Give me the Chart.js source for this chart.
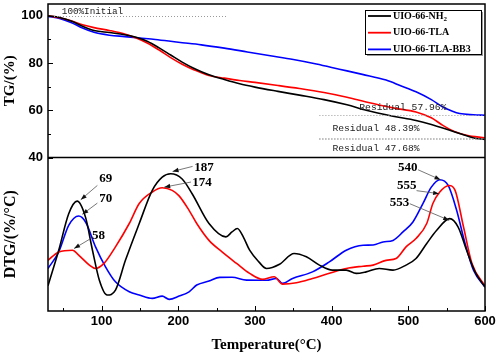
<!DOCTYPE html>
<html>
<head>
<meta charset="utf-8">
<script src="https://cdn.jsdelivr.net/npm/chart.js@4.4.0/dist/chart.umd.min.js"></script>
<style>
  html, body { margin: 0; padding: 0; background: #fff; }
  #wrap { width: 498px; height: 354px; }
</style>
</head>
<body>
<div id="wrap"><canvas id="tgChart" width="498" height="354"></canvas></div>
<script>
// series names
const seriesNames = ['UIO-66-NH', 'UIO-66-TLA', 'UIO-66-TLA-BB3'];

// TG curves, weight % vs temperature
const tgTempNh2 = [30, 45, 60, 75, 90, 110, 130, 145, 160, 175, 190, 205, 220, 240, 260, 280, 300, 330, 358, 390, 420, 445, 480, 510, 530, 554, 570, 584, 600];
const tgNh2     = [100, 99.3, 97.8, 95.6, 93.8, 92.9, 92, 90.9, 89.1, 86.4, 83.4, 80.4, 77.8, 75, 73, 71.2, 69.8, 68, 66.4, 64.5, 62.3, 60, 57.5, 55.7, 54, 51.5, 49.8, 48.4, 47.6];
const tgTempTla = [30, 45, 60, 75, 90, 110, 130, 145, 160, 175, 190, 205, 220, 240, 260, 280, 300, 330, 358, 390, 420, 445, 480, 510, 530, 545, 560, 576, 600];
const tgTla     = [100, 99.2, 97.9, 96.2, 95, 93.8, 92.3, 90.6, 88.4, 85.5, 82.3, 79.5, 77.2, 74.7, 73.6, 72.6, 71.8, 70.5, 69.2, 67.5, 65.5, 63.5, 61, 59.3, 56.8, 53.6, 51, 49.4, 48.3];
const tgTempBb3 = [30, 45, 60, 75, 90, 110, 130, 150, 170, 200, 230, 260, 290, 320, 350, 380, 410, 440, 471, 490, 510, 530, 545, 556, 567, 585, 600];
const tgBb3     = [99.7, 98.9, 97.2, 94.8, 93, 91.8, 91.2, 90.6, 90, 88.8, 87.7, 86.3, 84.7, 83.1, 81.5, 79.6, 77.4, 75.2, 72.8, 70.4, 67.8, 64.5, 61.4, 59.8, 58.6, 58.1, 57.9];

// DTG curves (arbitrary units, 0 = bottom of panel, 100 = top)
const dtgTempNh2 = [30, 44, 57, 68, 79, 88, 97, 107, 118, 131, 149, 166, 179, 190, 205, 218, 240, 262, 270, 277, 285, 293, 305, 315, 332, 351, 367, 384, 401, 419, 432, 445, 462, 480, 497, 510, 524, 537, 554, 565, 576, 587, 600];
const dtgNh2     = [16.5, 39.6, 63.4, 71.6, 61, 39.6, 20, 10.4, 13.6, 33, 57, 78.6, 87.2, 89.4, 86, 76.4, 57, 48.3, 51.5, 53.7, 48, 39.6, 32, 27.7, 30.5, 37.5, 35.3, 29.9, 26.6, 26.6, 24.5, 25.5, 27.7, 26.6, 29.9, 34.2, 44, 52.6, 60.2, 54.7, 39.6, 25.5, 15.6];
const dtgTempTla = [30, 44, 62, 70, 84, 92, 103, 118, 136, 149, 166, 179, 192, 201, 214, 224, 240, 257, 276, 293, 310, 325, 336, 354, 375, 397, 419, 441, 454, 471, 484, 497, 510, 524, 532, 541, 553, 561, 572, 583, 600];
const dtgTla     = [33, 38.5, 39.6, 36.4, 29.9, 27.7, 31, 41.8, 57, 70, 77.5, 80.3, 78.6, 75, 65.6, 57, 46, 38.5, 31, 24.5, 20.6, 22.3, 17.5, 18.4, 21.2, 24.6, 27.7, 29.2, 29.9, 33, 34.2, 41.8, 47.2, 57, 70, 77.5, 81.8, 78.6, 54.7, 31, 16.2];
const dtgTempBb3 = [30, 44, 57, 70, 79, 92, 105, 118, 136, 149, 166, 179, 188, 201, 214, 224, 240, 254, 270, 289, 315, 328, 336, 349, 375, 397, 419, 441, 454, 467, 480, 493, 506, 519, 530, 541, 552, 563, 574, 585, 600];
const dtgBb3     = [27.7, 38.5, 55.8, 61.9, 58, 41.8, 28.8, 19, 12.5, 10.4, 8.2, 9.7, 7.6, 9.7, 12.5, 16.9, 19.5, 21.9, 22, 20.1, 20, 21.2, 18, 21.2, 25.5, 32, 39.6, 42.8, 43, 45, 46, 51.5, 58, 70, 80.7, 85.5, 81.8, 65.6, 44, 26.6, 15.6];

// ticks
const xTicks = [100, 200, 300, 400, 500, 600];
const tgTicks = [40, 60, 80, 100];

// residual masses
const residualValues = [57.96, 48.39, 47.68];
const residualText = ['Residual 57.96%', 'Residual 48.39%', 'Residual 47.68%'];

// peak labels
const peakLabels = ['69', '70', '58', '187', '174', '540', '555', '553'];

const colors = ['#000000', '#ff0000', '#0000ff'];

function pts(xs, ys) {
    return xs.map((x, i) => ({ x: x, y: ys[i] }));
}

// where the text notes go (temperature / axis units)
const residualPos = [{ x: 436, y: 61.3 }, { x: 401, y: 52.3 }, { x: 401, y: 43.8 }];
const peakPos = [
    { tx: 96.7, ty: 86.4, ax: 94.4, ay: 81.8, bx: 72.7, by: 72.5 },
    { tx: 96.7, ty: 73.4, ax: 94.4, ay: 70.3, bx: 74.8, by: 63 },
    { tx: 87.5, ty: 49.4, ax: 85.8, ay: 47.2, bx: 64, by: 40.7 },
    { tx: 220.8, ty: 93.7, ax: 218.6, ay: 94.2, bx: 192.5, by: 90.9 },
    { tx: 218.2, ty: 83.3, ax: 216.5, ay: 84, bx: 181.6, by: 80.7 },
    { tx: 486.6, ty: 93.2, ax: 512.7, ay: 92, bx: 542, by: 85.5 },
    { tx: 485.3, ty: 81.6, ax: 510.7, ay: 78.4, bx: 540.2, by: 76.4 },
    { tx: 475.7, ty: 70.8, ax: 501.9, ay: 69.9, bx: 553.3, by: 59.1 }
];

function arrow(ctx, x1, y1, x2, y2) {
    ctx.beginPath();
    ctx.moveTo(x1, y1);
    ctx.lineTo(x2, y2);
    ctx.stroke();
    const ang = Math.atan2(y2 - y1, x2 - x1), L = 6, W = 2.2;
    ctx.beginPath();
    ctx.moveTo(x2, y2);
    ctx.lineTo(x2 - L * Math.cos(ang) + W * Math.sin(ang), y2 - L * Math.sin(ang) - W * Math.cos(ang));
    ctx.lineTo(x2 - L * Math.cos(ang) - W * Math.sin(ang), y2 - L * Math.sin(ang) + W * Math.cos(ang));
    ctx.closePath();
    ctx.fill();
}

function line(ctx, x1, y1, x2, y2) {
    ctx.beginPath();
    ctx.moveTo(x1, y1);
    ctx.lineTo(x2, y2);
    ctx.stroke();
}

// no extra room for half tick labels, the frame is fixed
function noPad(s) {
    s.paddingTop = 0;
    s.paddingBottom = 0;
    s.paddingLeft = 0;
    s.paddingRight = 0;
}

const decor = {
    id: 'decor',
    afterDatasetsDraw(chart) {
        const { ctx, chartArea: a, scales } = chart;
        const x = scales.x, yt = scales.y, yd = scales.yd;
        ctx.save();

        // dotted guide lines
        ctx.strokeStyle = '#9a9a9a';
        ctx.lineWidth = 1;
        ctx.setLineDash([1, 2]);
        let py = Math.round(yt.getPixelForValue(100)) + 0.5;
        line(ctx, a.left, py, x.getPixelForValue(264), py);
        residualValues.forEach(v => {
            py = Math.round(yt.getPixelForValue(v)) + 0.5;
            line(ctx, x.getPixelForValue(384), py, a.right, py);
        });
        ctx.setLineDash([]);

        // guide texts
        ctx.fillStyle = '#222';
        ctx.textBaseline = 'middle';
        ctx.textAlign = 'left';
        ctx.font = '9.3px "Liberation Mono"';
        ctx.fillText('100%Initial', x.getPixelForValue(48), yt.getPixelForValue(101.7));
        ctx.font = '9.7px "Liberation Mono"';
        residualText.forEach((t, i) => {
            ctx.fillText(t, x.getPixelForValue(residualPos[i].x), yt.getPixelForValue(residualPos[i].y));
        });

        // peak notes
        ctx.font = 'bold 13px "Liberation Serif"';
        peakLabels.forEach((t, i) => {
            const p = peakPos[i];
            ctx.fillStyle = '#000';
            ctx.fillText(t, x.getPixelForValue(p.tx), yd.getPixelForValue(p.ty));
            ctx.strokeStyle = '#555';
            ctx.lineWidth = 0.8;
            ctx.fillStyle = '#111';
            arrow(ctx, x.getPixelForValue(p.ax), yd.getPixelForValue(p.ay), x.getPixelForValue(p.bx), yd.getPixelForValue(p.by));
        });

        // tick marks, pointing inward
        ctx.strokeStyle = '#000';
        ctx.lineWidth = 1;
        for (let v = 40; v <= 100; v += 10) {
            const len = tgTicks.includes(v) ? 5 : 3;
            py = Math.round(yt.getPixelForValue(v)) + 0.5;
            line(ctx, a.left, py, a.left + len, py);
        }
        for (let v = 50; v <= 600; v += 50) {
            const len = xTicks.includes(v) ? 5 : 3;
            const px = Math.round(x.getPixelForValue(v)) + 0.5;
            line(ctx, px, a.bottom, px, a.bottom - len);
        }

        // frame and panel divider
        ctx.lineWidth = 1.5;
        ctx.strokeRect(a.left, a.top, a.right - a.left, a.bottom - a.top);
        line(ctx, a.left, yt.bottom, a.right, yt.bottom);

        // legend
        const lw = 116, lh = 44, lx = a.right - lw - 4, ly = a.top + 6;
        ctx.fillStyle = '#999';
        ctx.fillRect(lx + 2, ly + 2, lw, lh);
        ctx.fillStyle = '#fff';
        ctx.fillRect(lx, ly, lw, lh);
        ctx.lineWidth = 1;
        ctx.strokeStyle = '#000';
        ctx.strokeRect(lx + 0.5, ly + 0.5, lw, lh);
        ctx.font = 'bold 10px "Liberation Serif"';
        seriesNames.forEach((name, i) => {
            const ry = ly + 6 + i * 16.7;
            ctx.strokeStyle = colors[i];
            ctx.lineWidth = 1.8;
            line(ctx, lx + 3, ry, lx + 26, ry);
            ctx.fillStyle = '#000';
            ctx.fillText(name, lx + 28, ry);
            if (i === 0) {
                const w = ctx.measureText(name).width;
                ctx.font = 'bold 7px "Liberation Serif"';
                ctx.fillText('2', lx + 28 + w, ry + 3);
                ctx.font = 'bold 10px "Liberation Serif"';
            }
        });
        ctx.restore();
    }
};

const tickFont = { family: 'Liberation Sans', weight: 'bold', size: 13 };
const titleFont = { family: 'Liberation Serif', weight: 'bold', size: 15 };

new Chart(document.getElementById('tgChart'), {
    type: 'line',
    data: {
        datasets: [
            { label: 'TG NH2', data: pts(tgTempNh2, tgNh2), borderColor: colors[0], yAxisID: 'y' },
            { label: 'TG TLA', data: pts(tgTempTla, tgTla), borderColor: colors[1], yAxisID: 'y' },
            { label: 'TG BB3', data: pts(tgTempBb3, tgBb3), borderColor: colors[2], yAxisID: 'y' },
            { label: 'DTG NH2', data: pts(dtgTempNh2, dtgNh2), borderColor: colors[0], yAxisID: 'yd' },
            { label: 'DTG TLA', data: pts(dtgTempTla, dtgTla), borderColor: colors[1], yAxisID: 'yd' },
            { label: 'DTG BB3', data: pts(dtgTempBb3, dtgBb3), borderColor: colors[2], yAxisID: 'yd' }
        ]
    },
    options: {
        responsive: false,
        animation: false,
        devicePixelRatio: 1,
        layout: { padding: { top: 4, right: 13, left: 0, bottom: 0 } },
        plugins: { legend: { display: false }, tooltip: { enabled: false } },
        elements: {
            point: { radius: 0 },
            line: { borderWidth: 1.6, cubicInterpolationMode: 'monotone', fill: false }
        },
        scales: {
            x: {
                type: 'linear', min: 30, max: 600,
                afterBuildTicks: s => { s.ticks = xTicks.map(v => ({ value: v })); },
                afterFit: s => { s.height = 43; noPad(s); },
                grid: { display: false, drawTicks: false },
                border: { display: false },
                ticks: { font: tickFont, color: '#000', padding: 3, maxRotation: 0 },
                title: { display: true, text: 'Temperature(°C)', font: titleFont, color: '#000', padding: 0 }
            },
            yd: {
                type: 'linear', position: 'left', stack: 'panels', stackWeight: 1,
                min: 0, max: 100,
                afterFit: s => { s.width = 48; noPad(s); },
                grid: { display: false, drawTicks: false },
                border: { display: false },
                ticks: { display: false },
                title: { display: true, text: 'DTG/(%/°C)', font: { family: 'Liberation Serif', weight: 'bold', size: 16 }, color: '#000', padding: { top: 1, bottom: 0 } }
            },
            y: {
                type: 'linear', position: 'left', stack: 'panels', stackWeight: 1,
                min: 40, max: 105,
                afterBuildTicks: s => { s.ticks = tgTicks.map(v => ({ value: v })); },
                afterFit: s => { s.width = 48; noPad(s); },
                grid: { display: false, drawTicks: false },
                border: { display: false },
                ticks: { font: tickFont, color: '#000', padding: 5 },
                title: { display: true, text: 'TG/(%)', font: titleFont, color: '#000', padding: { top: 1, bottom: 0 } }
            }
        }
    },
    plugins: [decor]
});
</script>
</body>
</html>
